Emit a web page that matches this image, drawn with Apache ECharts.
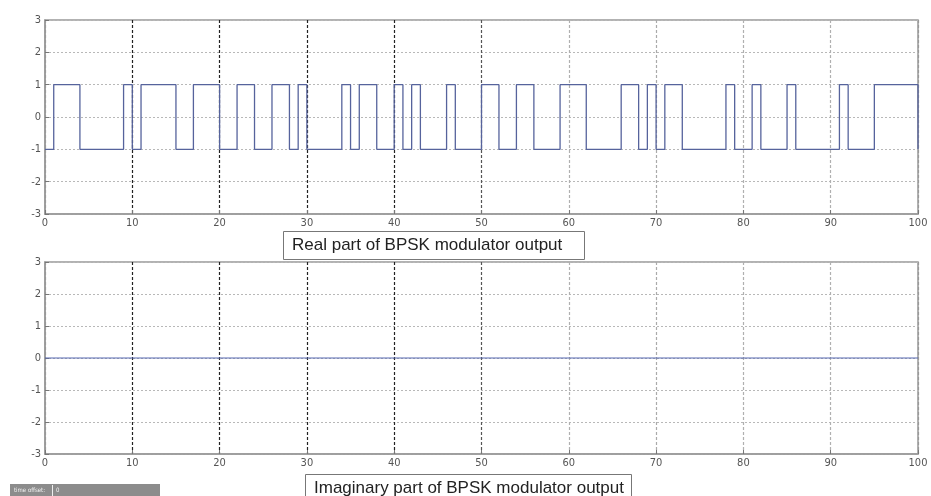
<!DOCTYPE html>
<html>
<head>
<meta charset="utf-8">
<script src="https://cdn.jsdelivr.net/npm/echarts@6/dist/echarts.min.js"></script>
<style>
  html, body { margin: 0; padding: 0; background: #fff; }
  #chart { width: 931px; height: 496px; }
</style>
</head>
<body>
<div id="chart"></div>
<script>
// BPSK symbol stream: one value per unit time step (held until the next step)
const symbols = [
  -1, 1, 1, 1, -1, -1, -1, -1, -1, 1,
  -1, 1, 1, 1, 1, -1, -1, 1, 1, 1,
  -1, -1, 1, 1, -1, -1, 1, 1, -1, 1,
  -1, -1, -1, -1, 1, -1, 1, 1, -1, -1,
  1, -1, 1, -1, -1, -1, 1, -1, -1, -1,
  1, 1, -1, -1, 1, 1, -1, -1, -1, 1,
  1, 1, -1, -1, -1, -1, 1, 1, -1, 1,
  -1, 1, 1, -1, -1, -1, -1, -1, 1, -1,
  -1, 1, -1, -1, -1, 1, -1, -1, -1, -1,
  -1, 1, -1, -1, -1, 1, 1, 1, 1, 1,
  -1
];
// Imaginary part of the modulator output (zero throughout)
const imagTimes = [0, 100];
const imagValues = [0, 0];

const xTicks = [0, 10, 20, 30, 40, 50, 60, 70, 80, 90, 100];
const yTicks = [-3, -2, -1, 0, 1, 2, 3];
const titles = ['Real part of BPSK modulator output', 'Imaginary part of BPSK modulator output'];

const realData = symbols.map((v, i) => [i, v]);
const imagData = imagTimes.map((t, i) => [t, imagValues[i]]);

const labelFont = '"Liberation Sans Narrow", "DejaVu Sans Condensed", "Liberation Sans", sans-serif';
const titleFont = '"Liberation Sans", Arial, sans-serif';
// vertical grid colours, one per x tick (0..100)
const vGridColors = ['#999', '#222', '#222', '#222', '#222', '#555', '#b0b0b0', '#aaa', '#b0b0b0', '#b0b0b0', '#999'];

function xAxis(gridIndex) {
  return {
    type: 'value', gridIndex, min: xTicks[0], max: xTicks[xTicks.length - 1], interval: 10,
    axisLine: { show: true, onZero: false, lineStyle: { color: '#999', width: 1.5 } },
    axisTick: { show: true, inside: true, length: 4, lineStyle: { color: '#777' } },
    axisLabel: { color: '#555', fontSize: 11, fontFamily: labelFont, margin: 4 },
    splitLine: { show: true, lineStyle: { color: vGridColors, type: [3, 2], width: 1.2 } }
  };
}
function yAxis(gridIndex) {
  return {
    type: 'value', gridIndex, min: yTicks[0], max: yTicks[yTicks.length - 1], interval: 1,
    axisLine: { show: true, lineStyle: { color: '#999', width: 1.5 } },
    axisTick: { show: true, inside: true, length: 4, lineStyle: { color: '#777' } },
    axisLabel: { color: '#555', fontSize: 11, fontFamily: labelFont, margin: 4 },
    splitLine: { show: true, lineStyle: { color: '#b8b8b8', type: [2, 2], width: 1 } }
  };
}

function boxedTitle(text, left, top, padRight) {
  return {
    text, left, top,
    padding: [6, padRight, 6, 9],
    borderColor: '#777', borderWidth: 1, backgroundColor: '#fff',
    textStyle: { fontSize: 17, fontWeight: 'normal', color: '#222', fontFamily: titleFont }
  };
}

const option = {
  backgroundColor: '#fff',
  animation: false,
  grid: [
    { left: 45, right: 13, top: 20, height: 194, show: true, borderColor: '#999', borderWidth: 1.5 },
    { left: 45, right: 13, top: 262, height: 192, show: true, borderColor: '#999', borderWidth: 1.5 }
  ],
  xAxis: [xAxis(0), xAxis(1)],
  yAxis: [yAxis(0), yAxis(1)],
  title: [boxedTitle(titles[0], 283, 231, 22), boxedTitle(titles[1], 305, 474, 8)],
  graphic: [
    { type: 'rect', left: 10, top: 484, shape: { width: 150, height: 12 }, style: { fill: '#8c8c8c' } },
    { type: 'rect', left: 52, top: 485, shape: { width: 1, height: 11 }, style: { fill: '#eee' } },
    { type: 'text', left: 14, top: 487, style: { text: 'time offset:', fill: '#f2f2f2', fontSize: 6, fontFamily: labelFont } },
    { type: 'text', left: 56, top: 487, style: { text: '0', fill: '#f2f2f2', fontSize: 6, fontFamily: labelFont } }
  ],
  series: [
    {
      type: 'line', xAxisIndex: 0, yAxisIndex: 0, data: realData, step: 'end',
      showSymbol: false, lineStyle: { color: '#56639c', width: 1.3 }, z: 5
    },
    {
      type: 'line', xAxisIndex: 1, yAxisIndex: 1, data: imagData,
      showSymbol: false, lineStyle: { color: '#5566b0', width: 1 }, z: 5
    }
  ]
};

const chart = echarts.init(document.getElementById('chart'), null, { renderer: 'canvas' });
chart.setOption(option);
</script>
</body>
</html>
